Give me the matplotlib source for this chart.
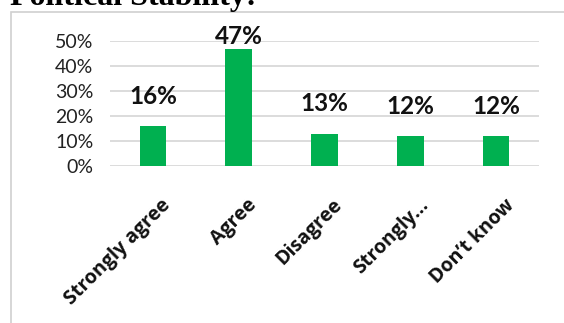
import matplotlib.pyplot as plt
import matplotlib.transforms as mtransforms
from matplotlib.patches import Rectangle

categories = ['Strongly agree', 'Agree', 'Disagree', 'Strongly...', 'Don\u2019t know']
values = [16, 47, 13, 12, 12]
yticks = [0, 10, 20, 30, 40, 50]

plt.rcParams['font.family'] = ['Lato', 'DejaVu Sans']

fig = plt.figure(figsize=(5.64, 3.23), dpi=100)

# chart frame (left and top visible)
fig.patches.append(Rectangle((11 / 564, -0.1), 1.2, 1 - 12 / 323 + 0.1,
                             transform=fig.transFigure, fill=False,
                             edgecolor='#d0d0d0', linewidth=1.2))

fig.text(10 / 564, 1 - 5 / 323, 'Political Stability:', family='Liberation Serif',
         fontsize=23, fontweight='bold', va='baseline', ha='left')

ax = fig.add_axes([110 / 564, 1 - 166 / 323, (539 - 110) / 564, 125 / 323])
x = range(len(categories))
ax.bar(x, values, width=0.31, color='#00b050', zorder=3)

for i, v in enumerate(values):
    ty = min(v + 12, 51.8)
    ax.text(i, ty, f'{v}%', ha='center', va='center', fontsize=17.5,
            fontweight='bold', color='#111111', clip_on=False, zorder=4)

ax.set_xlim(-0.5, len(categories) - 0.5)
ax.set_ylim(0, 50)
ax.set_yticks(yticks)
ax.set_yticklabels([f'{t}%' for t in yticks], fontsize=14, color='#222222')
ax.set_xticks(list(x))
ax.set_xticklabels(categories, rotation=45, ha='right', rotation_mode='anchor',
                   fontsize=14, fontweight='bold', color='#111111',
                   family=['Open Sans', 'DejaVu Sans'])
ax.tick_params(axis='y', length=0, pad=12)
ax.tick_params(axis='x', length=0, pad=21)
shift = mtransforms.ScaledTranslation(8 / 100, 0, fig.dpi_scale_trans)
for lab in ax.get_xticklabels():
    lab.set_transform(lab.get_transform() + shift)
ax.grid(axis='y', color='#d9d9d9', linewidth=1.3, zorder=0)
for s in ax.spines.values():
    s.set_visible(False)

fig.savefig('out.png', dpi=100)
